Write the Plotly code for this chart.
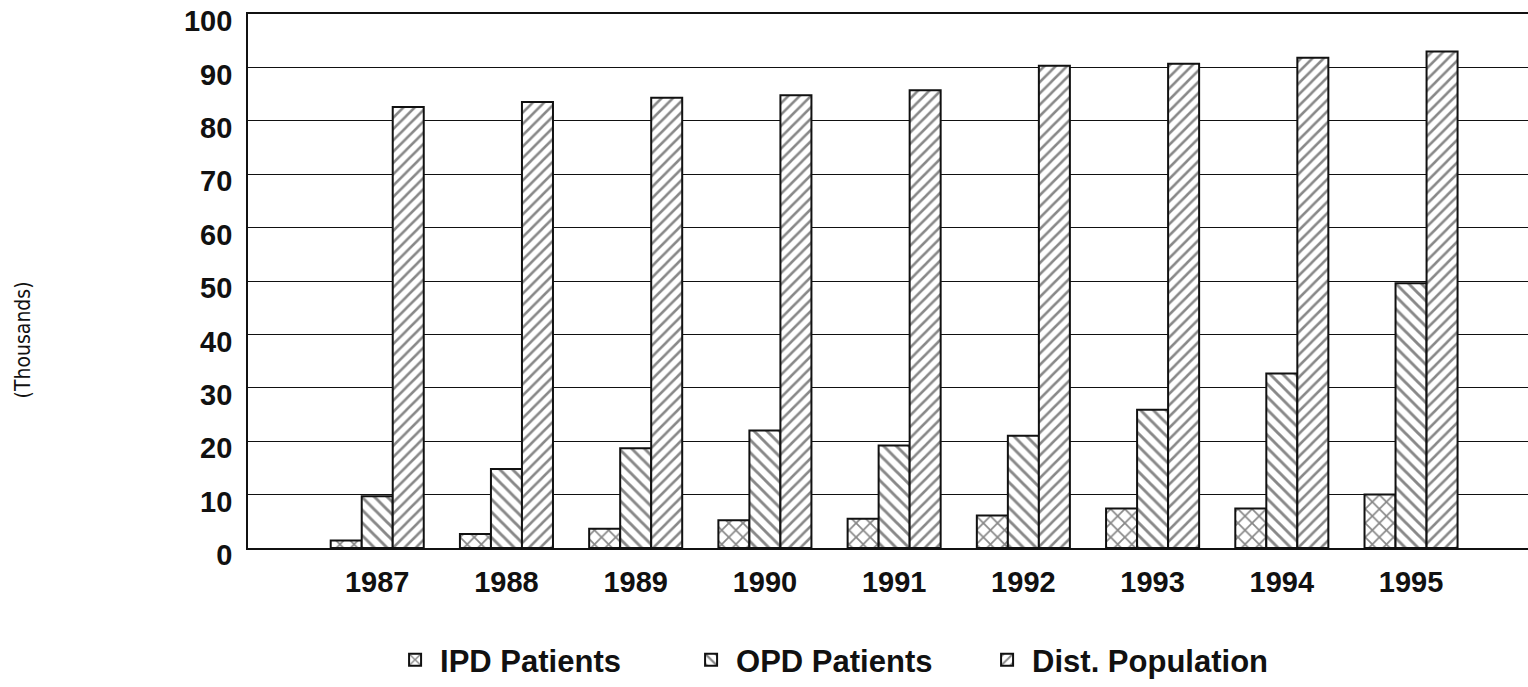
import plotly.graph_objects as go

years = ["1987", "1988", "1989", "1990", "1991", "1992", "1993", "1994", "1995"]
ipd_patients = [1.4, 2.6, 3.6, 5.2, 5.5, 6.1, 7.4, 7.4, 10.0]
opd_patients = [9.7, 14.8, 18.7, 22.0, 19.2, 21.0, 25.9, 32.7, 49.6]
dist_population = [82.6, 83.5, 84.3, 84.8, 85.7, 90.3, 90.7, 91.8, 93.0]

y_ticks = [0, 10, 20, 30, 40, 50, 60, 70, 80, 90, 100]

INK = "#111111"

fig = go.Figure()

# three hatched series, black lines on white
for name, vals, shape, size in [
    ("IPD Patients", ipd_patients, "x", 10),
    ("OPD Patients", opd_patients, "\\", 9),
    ("Dist. Population", dist_population, "/", 8),
]:
    fig.add_trace(go.Bar(
        x=years, y=vals, name=name,
        marker=dict(
            color="white",
            line=dict(color=INK, width=2),
            pattern=dict(shape=shape, fgcolor=INK, bgcolor="white", size=size, solidity=0.32),
        ),
    ))

fig.update_layout(
    width=1528, height=687,
    barmode="group", bargap=0.28, bargroupgap=0,
    paper_bgcolor="white", plot_bgcolor="white",
    margin=dict(l=248, r=0, t=14, b=139),
    font=dict(family="Liberation Sans, Arial, sans-serif", color=INK),
    legend=dict(
        orientation="h", x=0.111, xanchor="left", y=-0.21, yanchor="middle",
        font=dict(size=31, weight="bold"), itemwidth=40, traceorder="normal",
        entrywidth=241,
    ),
    xaxis=dict(
        type="category", range=[-1, 8.905], automargin=False,
        showline=True, linecolor=INK, linewidth=1.8, mirror=True,
        showgrid=False, ticks="", ticklabelstandoff=7,
        tickfont=dict(size=29, weight="bold"),
    ),
    yaxis=dict(
        range=[0, 100], tickvals=y_ticks, automargin=False,
        showline=True, linecolor=INK, linewidth=1.8,
        showgrid=True, gridcolor=INK, gridwidth=1.4,
        zeroline=False, ticks="", ticklabelstandoff=8, ticklabelshift=7,
        ticklabeloverflow="allow",
        tickfont=dict(size=29, weight="bold"),
    ),
    annotations=[dict(
        text="(Thousands)", textangle=-90, showarrow=False,
        xref="paper", yref="paper", x=-0.176, y=0.39,
        xanchor="center", yanchor="middle",
        font=dict(family="Liberation Sans Narrow, DejaVu Sans Condensed, sans-serif", size=21),
    )],
)

# drop the default body margin so the figure fills the window exactly
fig.write_html(
    "out.html",
    config={"displayModeBar": False},
    post_script="document.body.style.margin='0';",
)
